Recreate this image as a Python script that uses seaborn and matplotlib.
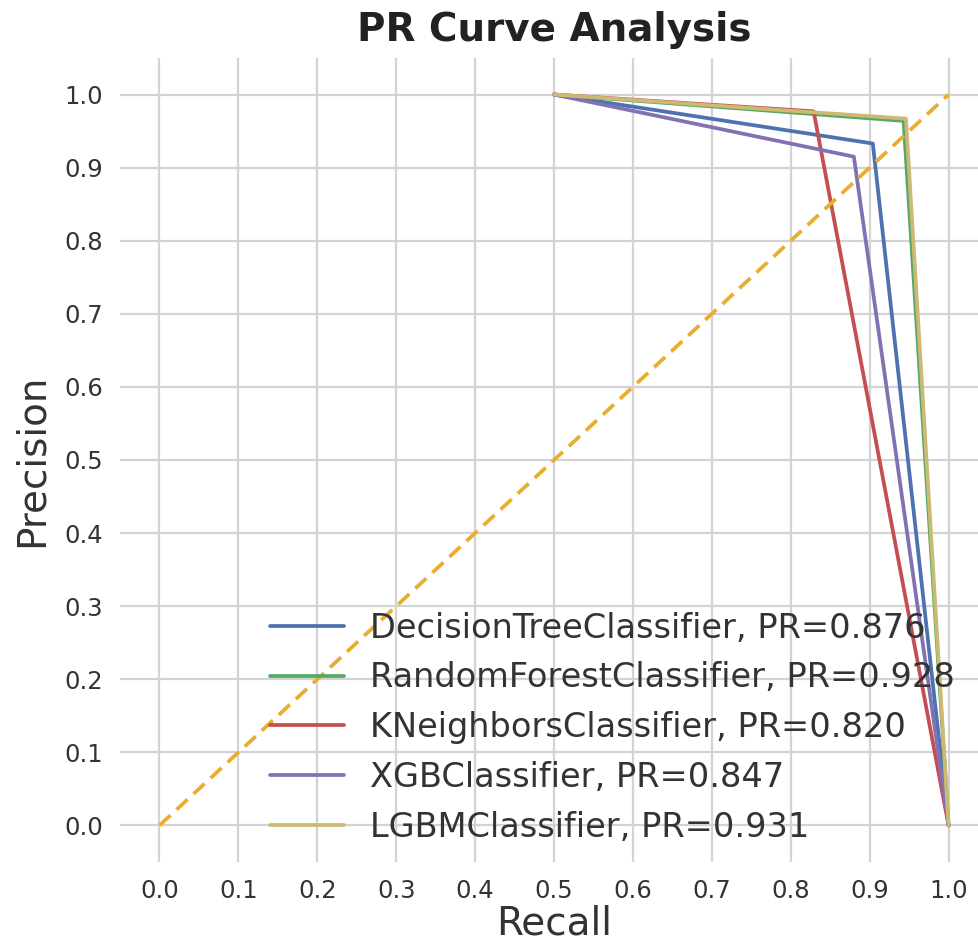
import matplotlib
matplotlib.use("Agg")
import matplotlib.pyplot as plt
import seaborn as sns
import pandas as pd

models = ["DecisionTreeClassifier", "RandomForestClassifier", "KNeighborsClassifier",
          "XGBClassifier", "LGBMClassifier"]
pr_scores = [0.876, 0.928, 0.820, 0.847, 0.931]
# curve points (recall, precision) per model: start, corner, end
recall_pts = {
    "DecisionTreeClassifier": [0.5, 0.904, 1.0],
    "RandomForestClassifier": [0.5, 0.943, 1.0],
    "KNeighborsClassifier": [0.5, 0.829, 1.0],
    "XGBClassifier": [0.5, 0.880, 1.0],
    "LGBMClassifier": [0.5, 0.946, 1.0],
}
precision_pts = {
    "DecisionTreeClassifier": [1.0, 0.933, 0.0],
    "RandomForestClassifier": [1.0, 0.964, 0.0],
    "KNeighborsClassifier": [1.0, 0.977, 0.0],
    "XGBClassifier": [1.0, 0.915, 0.0],
    "LGBMClassifier": [1.0, 0.967, 0.0],
}
ticks = [0.0, 0.1, 0.2, 0.3, 0.4, 0.5, 0.6, 0.7, 0.8, 0.9, 1.0]

sns.set_theme(style="whitegrid")
plt.rcParams["font.family"] = ["DejaVu Sans"]
plt.rcParams["grid.color"] = "#d3d3d3"
plt.rcParams["grid.linewidth"] = 1.6

colors = ["#4C72B0", "#55A868", "#C44E52", "#8172B2", "#CCB974"]

fig = plt.figure(figsize=(9.79, 9.43), dpi=100)
ax = fig.add_axes([0.1226, 0.0859, 0.8866, 0.8526])

rows = []
for m, s in zip(models, pr_scores):
    for r, p in zip(recall_pts[m], precision_pts[m]):
        rows.append({"model": f"{m}, PR={s:.3f}", "Recall": r, "Precision": p})
df = pd.DataFrame(rows)

sns.lineplot(data=df, x="Recall", y="Precision", hue="model", palette=colors,
             sort=False, estimator=None, linewidth=2.7, ax=ax)

ax.plot([0, 1], [0, 1], linestyle="--", color="#E9AD2F", linewidth=2.7, dashes=(4, 2.2))

ax.set_xlim(-0.05, 1.05)
ax.set_ylim(-0.05, 1.05)
ax.set_xticks(ticks)
ax.set_yticks(ticks)
ax.set_xticklabels([f"{t:.1f}" for t in ticks])
ax.set_yticklabels([f"{t:.1f}" for t in ticks])
ax.tick_params(axis="both", labelsize=17.5, length=0, pad=12, colors="#333333")
for sp in ax.spines.values():
    sp.set_visible(False)

ax.set_xlabel("Recall", fontsize=28, color="#333333", labelpad=1)
ax.set_ylabel("Precision", fontsize=28, color="#333333", labelpad=10)
ax.set_title("PR Curve Analysis", fontsize=28, fontweight="bold", color="#222222", pad=12)

leg = ax.legend(loc="lower right", bbox_to_anchor=(0.997, -0.015), fontsize=24.2, frameon=False,
                handlelength=2.2, handletextpad=0.8)
for t in leg.get_texts():
    t.set_color("#333333")

fig.savefig("out.png", dpi=100)
